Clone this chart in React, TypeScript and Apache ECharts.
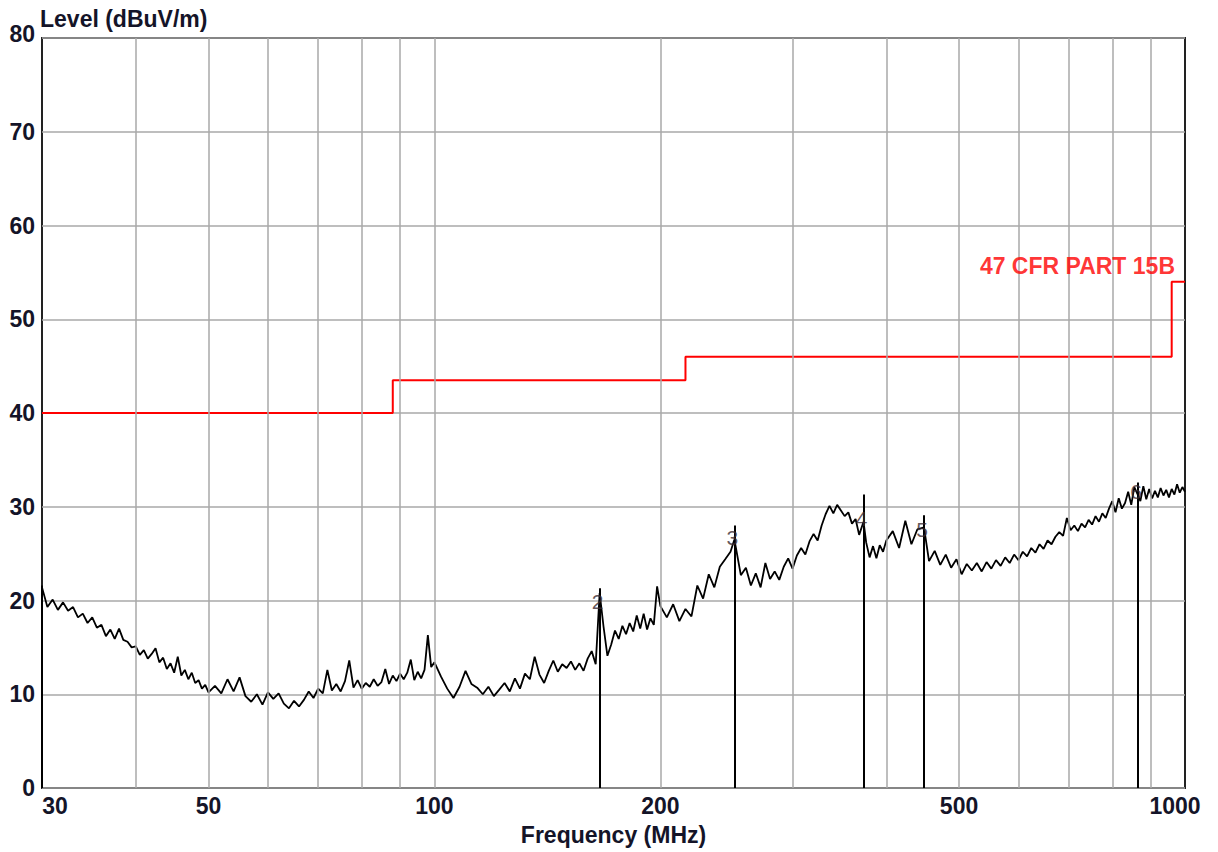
import React, { useEffect, useRef } from "react";
import * as echarts from "echarts";

// ---- data ----
const traceFreqs: number[] = [
  30, 30.5, 31, 31.5, 32, 32.5, 33, 33.5, 34, 34.5, 35, 35.5, 36, 36.5, 37, 37.5, 38, 38.5, 39, 39.5,
  40, 40.5, 41, 41.5, 42, 42.5, 43, 43.5, 44, 44.5, 45, 45.5, 46, 46.5, 47, 47.5, 48, 48.5, 49, 49.5, 50,
  51, 52, 53, 54, 55, 56, 57, 58, 59, 60, 61, 62, 63, 64, 65, 66, 67, 68, 69, 70,
  71, 72, 73, 74, 75, 76, 77, 78, 79, 80, 81, 82, 83, 84, 85, 86, 87, 88, 89, 90,
  91, 92, 93, 94, 95, 96, 97, 98, 99, 100,
  102, 104, 106, 108, 110, 112, 114, 116, 118, 120, 122, 124, 126, 128, 130, 132, 134, 136, 138, 140,
  142, 144, 146, 148, 150, 152, 154, 156, 158, 160, 162, 164, 166, 168, 170, 172, 174, 176, 178, 180,
  182, 184, 186, 188, 190, 192, 194, 196, 198, 200,
  204, 208, 212, 216, 220, 224, 228, 232, 236, 240, 244, 248, 251, 256, 260, 264, 268, 272, 276, 280,
  284, 288, 292, 296, 300, 304, 308, 312, 316, 320, 324, 328, 332, 336, 340, 344, 348, 352, 356, 360,
  364, 368, 373, 376, 380, 384, 388, 392, 396, 400,
  408, 416, 424, 432, 440, 449, 456, 464, 472, 480, 488, 496, 504, 512, 520, 528, 536, 544, 552, 560,
  568, 576, 584, 592, 600, 608, 616, 624, 632, 640, 648, 656, 664, 672, 680, 688, 696, 704, 712, 720,
  728, 736, 744, 752, 760, 768, 776, 784, 792, 800, 808, 816, 824, 832, 840, 848, 856, 866, 872, 880,
  888, 896, 904, 912, 920, 928, 936, 944, 952, 960, 968, 976, 984, 992, 1000,
];

const traceLevels: number[] = [
  21.4, 19.3, 20.1, 19.0, 19.8, 18.9, 19.3, 18.2, 18.6, 17.6, 18.2, 17.1, 17.4, 16.2, 16.9, 15.9, 17.0, 15.8, 15.6, 15.0,
  15.1, 14.2, 14.7, 13.8, 14.3, 14.9, 13.4, 13.9, 12.7, 13.3, 12.3, 14.0, 12.0, 12.6, 11.6, 12.3, 11.2, 11.5, 10.6, 11.0, 10.2,
  10.9, 10.1, 11.6, 10.3, 11.8, 9.8, 9.2, 10.0, 8.9, 10.2, 9.5, 10.1, 9.0, 8.5, 9.3, 8.7, 9.4, 10.3, 9.6, 10.6,
  10.1, 12.6, 10.4, 11.1, 10.3, 11.4, 13.6, 10.7, 11.5, 10.6, 11.2, 10.8, 11.6, 10.9, 11.3, 12.7, 11.1, 12.0, 11.4, 12.2,
  11.6, 12.3, 13.7, 11.5, 12.4, 11.7, 12.6, 16.3, 12.9, 13.4,
  11.9, 10.6, 9.6, 10.8, 12.5, 11.1, 10.7, 10.0, 10.8, 9.8, 10.5, 11.2, 10.3, 11.7, 10.6, 12.2, 11.6, 14.0, 12.1, 11.2,
  12.5, 13.6, 12.4, 13.2, 12.8, 13.5, 12.6, 13.3, 12.5, 13.8, 14.6, 13.2, 20.8, 17.2, 14.1, 15.3, 16.8, 15.9, 17.3, 16.4,
  17.6, 16.7, 18.4, 17.0, 18.6, 16.9, 18.1, 17.4, 21.5, 19.4,
  18.2, 19.6, 17.8, 19.1, 18.3, 21.6, 20.2, 22.8, 21.4, 23.6, 24.4, 25.2, 26.5, 22.7, 23.5, 21.6, 22.9, 21.4, 24.0, 22.3,
  23.1, 22.2, 23.6, 24.5, 23.4, 24.8, 25.6, 24.9, 26.3, 27.1, 26.4, 28.0, 29.2, 30.1, 29.3, 30.2, 29.6, 29.0, 29.4, 28.2,
  28.7, 27.0, 28.4, 26.2, 24.6, 25.8, 24.5, 25.9, 25.2, 26.4,
  27.4, 25.6, 28.5, 26.0, 27.6, 27.8, 24.2, 25.3, 23.8, 24.9, 23.5, 24.4, 22.8, 23.9, 23.2, 24.0, 23.1, 24.1, 23.4, 24.3,
  23.7, 24.6, 24.0, 24.9, 24.3, 25.2, 24.7, 25.6, 25.1, 26.0, 25.5, 26.4, 26.0, 26.8, 27.3, 26.9, 28.8, 27.5, 28.0, 27.4,
  28.2, 27.8, 28.6, 28.1, 29.0, 28.4, 29.3, 28.8, 29.8, 30.6, 29.4, 30.9, 29.8, 30.4, 31.6, 30.2, 32.1, 31.2, 30.6, 32.2,
  30.8, 31.9, 30.9, 31.7, 31.0, 32.0, 31.2, 31.8, 31.0, 31.9, 31.3, 32.4, 31.5, 32.1, 31.6,
];

const limitFreqs = [30, 88, 88, 216, 216, 960, 960, 1000];
const limitLevels = [40, 40, 43.5, 43.5, 46, 46, 54, 54];
const limitName = "47 CFR PART 15B";

const markerNames = ["1", "2", "3", "4", "5", "6"];
const markerFreqs = [30, 166, 251, 373, 449, 866];
const markerLevels = [21.6, 21.3, 28.0, 31.3, 29.1, 32.6];
const markerLabelLevels = [null, 19.9, 26.7, 28.7, 27.6, 31.6];

const gridFreqs = [40, 50, 60, 70, 80, 90, 100, 200, 300, 400, 500, 600, 700, 800, 900];
const xTickValues = [30, 50, 100, 200, 500, 1000];

const yTitle = "Level (dBuV/m)";
const xTitle = "Frequency (MHz)";

// ---- styles ----
const FONT = "'Liberation Sans', Arial, sans-serif";
const TEXT = "#141428";
const GRID = "#a8a8a8";

export default function App() {
  const ref = useRef<HTMLDivElement>(null);

  useEffect(() => {
    if (!ref.current) return;
    const chart = echarts.init(ref.current, null, { renderer: "svg" });

    const n = Math.min(traceFreqs.length, traceLevels.length);
    const traceData: number[][] = [];
    for (let i = 0; i < n; i++) traceData.push([traceFreqs[i], traceLevels[i]]);

    const limitData = limitFreqs.map((f, i) => [f, limitLevels[i]]);

    const markerLineData = markerFreqs.map((f, i) => [
      { coord: [f, 0] },
      { coord: [f, markerLevels[i]] },
    ]);

    const markerLabelData = markerNames
      .map((name, i) => ({ name, value: [markerFreqs[i], markerLabelLevels[i]] }))
      .filter((d) => d.value[1] !== null);

    const baseText = { fontFamily: FONT, fontSize: 23, fontWeight: "bold" as const, color: TEXT };

    const option: any = {
      animation: false,
      backgroundColor: "#ffffff",
      title: {
        text: yTitle,
        left: 40,
        top: 7,
        padding: 0,
        textStyle: { ...baseText },
      },
      grid: {
        left: 42,
        right: 33,
        top: 38,
        bottom: 64,
        show: true,
        borderColor: "#222222",
        borderWidth: 2,
        backgroundColor: "transparent",
      },
      xAxis: {
        type: "log",
        logBase: 10,
        min: 30,
        max: 1000,
        name: xTitle,
        nameLocation: "middle",
        nameGap: 35,
        nameTextStyle: { ...baseText },
        axisLine: { show: false },
        axisTick: { show: false },
        splitLine: { show: false },
        minorTick: { show: false },
        minorSplitLine: { show: false },
        axisLabel: {
          customValues: xTickValues,
          margin: 6,
          ...baseText,
          formatter: (v: number) =>
            v === 30 ? "{l|30}" : v === 1000 ? "{r|1000}" : String(v),
          rich: {
            l: { ...baseText, padding: [0, 0, 0, 26] },
            r: { ...baseText, padding: [0, 20, 0, 0] },
          },
        },
      },
      yAxis: {
        type: "value",
        min: 0,
        max: 80,
        interval: 10,
        axisLine: { show: false },
        axisTick: { show: false },
        splitLine: { show: true, lineStyle: { color: GRID, width: 1.5 } },
        axisLabel: {
          margin: 7,
          ...baseText,
          formatter: (v: number) => (v === 80 ? "{t|80}" : String(v)),
          rich: { t: { ...baseText, padding: [0, 0, 8, 0] } },
        },
      },
      series: [
        {
          name: "grid",
          type: "line",
          data: [],
          silent: true,
          z: 1,
          markLine: {
            silent: true,
            symbol: ["none", "none"],
            label: { show: false },
            emphasis: { disabled: true },
            lineStyle: { color: GRID, width: 1.5, type: "solid" },
            data: gridFreqs.map((f) => ({ xAxis: f })),
          },
        },
        {
          name: limitName,
          type: "line",
          data: limitData,
          symbol: "none",
          silent: true,
          z: 3,
          lineStyle: { color: "#ff0000", width: 2 },
        },
        {
          name: "trace",
          type: "line",
          data: traceData,
          symbol: "none",
          silent: true,
          z: 4,
          lineStyle: { color: "#000000", width: 1.8 },
          markLine: {
            silent: true,
            symbol: ["none", "none"],
            label: { show: false },
            emphasis: { disabled: true },
            lineStyle: { color: "#000000", width: 2, type: "solid" },
            data: markerLineData,
          },
        },
        {
          name: "markers",
          type: "scatter",
          data: markerLabelData,
          symbolSize: 0,
          silent: true,
          z: 5,
          label: {
            show: true,
            position: "inside",
            offset: [-2, 0],
            formatter: "{b}",
            fontFamily: FONT,
            fontSize: 21,
            color: "#3a2a30",
          },
        },
        {
          name: "limitLabel",
          type: "scatter",
          data: [{ name: limitName, value: [1000, 54] }],
          symbolSize: 0,
          silent: true,
          clip: false,
          z: 5,
          label: {
            show: true,
            position: "top",
            align: "right",
            distance: 4,
            offset: [-10, 0],
            formatter: "{b}",
            fontFamily: FONT,
            fontSize: 23,
            fontWeight: "bold",
            color: "#ff0000",
          },
        },
      ],
    };

    chart.setOption(option);
    return () => chart.dispose();
  }, []);

  return (
    <div
      ref={ref}
      style={{ position: "absolute", left: 0, top: 0, width: 1218, height: 852, background: "#fff" }}
    />
  );
}
